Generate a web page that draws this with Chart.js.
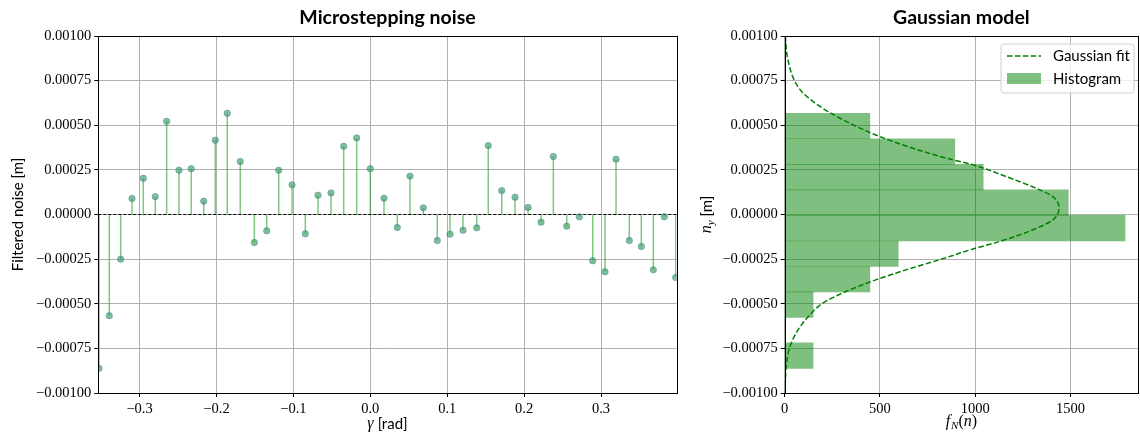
<!DOCTYPE html>
<html><head><meta charset="utf-8">
<script src="https://cdn.jsdelivr.net/npm/chart.js@4.4.1/dist/chart.umd.min.js"></script>
<style>
html,body{margin:0;padding:0;background:#fff;width:1140px;height:434px;overflow:hidden}
.box{position:absolute;top:0;height:434px}
</style></head><body>
<div class="box" style="left:0;width:690px"><canvas id="c1" width="690" height="434"></canvas></div>
<div class="box" style="left:690px;width:450px"><canvas id="c2" width="450" height="434"></canvas></div>
<script>
// ---- data ----
const gamma = [-0.3528,-0.3394,-0.3246,-0.3099,-0.2952,-0.2796,-0.2648,-0.2488,-0.2328,-0.2166,-0.2016,-0.1860,-0.1691,-0.1508,-0.1347,-0.1191,-0.1018,-0.0845,-0.0680,-0.0511,-0.0346,-0.0177,0.0000,0.0178,0.0351,0.0516,0.0689,0.0871,0.1036,0.1205,0.1384,0.1534,0.1709,0.1882,0.2051,0.2220,0.2380,0.2554,0.2718,0.2892,0.3052,0.3195,0.3368,0.3524,0.3680,0.3823,0.3971];
const noise = [-0.000862,-0.000567,-0.000250,0.0000896,0.000203,0.000100,0.000522,0.000248,0.000257,0.0000746,0.000416,0.000567,0.000297,-0.000157,-0.0000914,0.000248,0.000166,-0.000108,0.000108,0.000121,0.000382,0.000429,0.000257,0.0000914,-0.0000728,0.000215,0.0000373,-0.000146,-0.000110,-0.0000877,-0.0000746,0.000386,0.000134,0.000097,0.0000392,-0.0000429,0.000325,-0.0000653,-0.000013,-0.000259,-0.000321,0.000310,-0.000146,-0.000179,-0.000310,-0.000013,-0.000353];
const gammaRange = [-0.3537, 0.3984];
const gammaTicks = [-0.3,-0.2,-0.1,0.0,0.1,0.2,0.3];
const noiseTicksStep = 0.00025;
const noiseRange = [-0.001, 0.001];

const binEdges = [-0.000862,-0.000719,-0.000576,-0.000434,-0.000291,-0.000148,-0.000005,0.000138,0.000281,0.000424,0.000567];
const binDensity = [149,0,149,447,596,1787,1489,1042,893,447];
const fitDensity = [3,14,50,90,150,238,342,500,674,850,989,1164,1339,1408,1440,1408,1304,1129,989,814,640,482,325,202,133,71,28,10,1];
const fitNoise = [0.001,0.000883,0.000753,0.000688,0.000632,0.00057,0.000511,0.000436,0.000371,0.000315,0.000278,0.000212,0.000138,0.0001,0.00004,-0.00003,-0.0000855,-0.000151,-0.000193,-0.000253,-0.000309,-0.000365,-0.00043,-0.000495,-0.000561,-0.000645,-0.000738,-0.000831,-0.001];
const densityTicks = [0,500,1000,1500];
const densityMax = 1855;

// ---- styling ----
const SERIF = '"Liberation Serif", "DejaVu Serif", serif';
const SANS = 'Lato, "DejaVu Sans", sans-serif';
const GRID = '#b0b0b0';
const minusFmt = (v, d) => (Math.abs(v) < 1e-12 ? (0).toFixed(d) : (v < 0 ? '\u2212' : '') + Math.abs(v).toFixed(d));

function drawRich(ctx, segs, cx, cy, rot) {
  ctx.save();
  ctx.translate(cx, cy);
  if (rot) ctx.rotate(rot);
  let total = 0;
  for (const s of segs) { ctx.font = s.font; total += ctx.measureText(s.t).width + (s.gap || 0); }
  let x = -total / 2;
  ctx.textBaseline = 'middle';
  ctx.textAlign = 'left';
  ctx.fillStyle = '#000';
  for (const s of segs) {
    ctx.font = s.font;
    ctx.fillText(s.t, x, s.dy || 0);
    x += ctx.measureText(s.t).width + (s.gap || 0);
  }
  ctx.restore();
}

const framePlugin = {
  id: 'frame',
  afterDraw(chart) {
    const {ctx, chartArea: a} = chart;
    ctx.save();
    ctx.strokeStyle = '#000';
    ctx.lineWidth = 1;
    ctx.strokeRect(Math.round(a.left) + 0.5, Math.round(a.top) + 0.5, Math.round(a.right) - Math.round(a.left), Math.round(a.bottom) - Math.round(a.top));
    ctx.restore();
  }
};

function gridCfg() {
  return { color: GRID, lineWidth: 1, drawTicks: true, tickLength: 4, tickColor: '#000', tickWidth: 1, offset: false };
}

// ---- left chart: stems ----
const stemData = [];
gamma.forEach((g, i) => { stemData.push({x: g, y: 0}, {x: g, y: noise[i]}, {x: g, y: null}); });
const markerData = gamma.map((g, i) => ({x: g, y: noise[i]}));

const leftText = {
  id: 'leftText',
  afterDraw(chart) {
    const {ctx, chartArea: a} = chart;
    const cx = (a.left + a.right) / 2;
    drawRich(ctx, [{t: 'Microstepping noise', font: 'bold 19.5px ' + SANS}], cx, 18);
    drawRich(ctx, [{t: '\u03b3', font: 'italic 16px ' + SERIF, gap: 4}, {t: '[rad]', font: '15px ' + SANS}], cx, 424);
    drawRich(ctx, [{t: 'Filtered noise [m]', font: '15px ' + SANS}], 18, (a.top + a.bottom) / 2, -Math.PI / 2);
  }
};

new Chart(document.getElementById('c1'), {
  type: 'line',
  data: {
    datasets: [
      { type: 'scatter', data: markerData, pointRadius: 3.2, pointBackgroundColor: 'rgba(60,160,90,0.65)', pointBorderColor: 'rgba(70,130,180,0.5)', pointBorderWidth: 1, showLine: false, order: 0 },
      { type: 'line', data: [{x: gammaRange[0], y: 0}, {x: gammaRange[1], y: 0}], borderColor: '#000', borderWidth: 1, borderDash: [3, 2], pointRadius: 0, order: 1 },
      { type: 'line', data: stemData, borderColor: 'rgba(44,160,44,0.6)', borderWidth: 1.5, pointRadius: 0, spanGaps: false, order: 2 }
    ]
  },
  options: {
    responsive: false, animation: false, devicePixelRatio: 1,
    layout: { padding: { left: 0, right: 13.3, top: 36, bottom: 0 } },
    plugins: { legend: { display: false }, tooltip: { enabled: false }, title: { display: false } },
    scales: {
      x: {
        type: 'linear', min: gammaRange[0], max: gammaRange[1], offset: false,
        afterBuildTicks: s => { s.ticks = gammaTicks.map(v => ({value: v})); },
        afterFit: s => { s.height = 41; },
        grid: gridCfg(), border: { display: false },
        ticks: { font: { family: SERIF, size: 14.5 }, color: '#000', padding: 3, maxRotation: 0, callback: v => minusFmt(v, 1) }
      },
      y: {
        type: 'linear', min: noiseRange[0], max: noiseRange[1], offset: false,
        afterFit: s => { s.width = 98.3; },
        grid: gridCfg(), border: { display: false },
        ticks: { stepSize: noiseTicksStep, font: { family: SERIF, size: 14.5 }, color: '#000', padding: 3, callback: v => minusFmt(v, 5) }
      }
    }
  },
  plugins: [framePlugin, leftText]
});

// ---- right chart: histogram + Gaussian fit ----
const binCenters = binDensity.map((d, i) => (binEdges[i] + binEdges[i + 1]) / 2);
const histData = binDensity.map((d, i) => ({x: d, y: binCenters[i]}));
const fitData = fitDensity.map((d, i) => ({x: d, y: fitNoise[i]}));

const rightText = {
  id: 'rightText',
  afterDraw(chart) {
    const {ctx, chartArea: a} = chart;
    const cx = (a.left + a.right) / 2;
    drawRich(ctx, [{t: 'Gaussian model', font: 'bold 19.5px ' + SANS}], cx, 18);
    drawRich(ctx, [
      {t: 'f', font: 'italic 16px ' + SERIF, gap: 1},
      {t: 'N', font: 'italic 11px ' + SERIF, dy: 4},
      {t: '(', font: '16px ' + SERIF},
      {t: 'n', font: 'italic 16px ' + SERIF},
      {t: ')', font: '16px ' + SERIF}
    ], cx, 422);
    drawRich(ctx, [
      {t: 'n', font: 'italic 16px ' + SERIF},
      {t: 'y', font: 'italic 11px ' + SERIF, dy: 4, gap: 4},
      {t: '[m]', font: '15px ' + SANS}
    ], 17, (a.top + a.bottom) / 2, -Math.PI / 2);
    // legend
    const lx = 311, ly = 44, lw = 133, lh = 49, r = 3;
    ctx.save();
    ctx.beginPath();
    ctx.moveTo(lx + r, ly); ctx.lineTo(lx + lw - r, ly); ctx.quadraticCurveTo(lx + lw, ly, lx + lw, ly + r);
    ctx.lineTo(lx + lw, ly + lh - r); ctx.quadraticCurveTo(lx + lw, ly + lh, lx + lw - r, ly + lh);
    ctx.lineTo(lx + r, ly + lh); ctx.quadraticCurveTo(lx, ly + lh, lx, ly + lh - r);
    ctx.lineTo(lx, ly + r); ctx.quadraticCurveTo(lx, ly, lx + r, ly); ctx.closePath();
    ctx.fillStyle = 'rgba(255,255,255,0.8)'; ctx.fill();
    ctx.strokeStyle = '#d0d0d0'; ctx.lineWidth = 1; ctx.stroke();
    ctx.strokeStyle = '#008000'; ctx.lineWidth = 1.5; ctx.setLineDash([5.5, 2.4]);
    ctx.beginPath(); ctx.moveTo(lx + 6, 56); ctx.lineTo(lx + 40, 56); ctx.stroke();
    ctx.setLineDash([]);
    ctx.fillStyle = 'rgba(0,128,0,0.5)'; ctx.fillRect(lx + 6, 73, 34, 11);
    ctx.fillStyle = '#000'; ctx.font = '15px ' + SANS; ctx.textBaseline = 'middle'; ctx.textAlign = 'left';
    ctx.fillText('Gaussian fit', lx + 52, 56);
    ctx.fillText('Histogram', lx + 52, 79);
    ctx.restore();
  }
};

new Chart(document.getElementById('c2'), {
  type: 'bar',
  data: {
    datasets: [
      { type: 'line', data: fitData, borderColor: '#008000', borderWidth: 1.5, borderDash: [5.5, 2.4], pointRadius: 0, cubicInterpolationMode: 'monotone', order: 0, indexAxis: 'y' },
      { type: 'bar', data: histData, backgroundColor: 'rgba(0,128,0,0.5)', borderWidth: 0, barPercentage: 1, categoryPercentage: 1, order: 1, indexAxis: 'y' }
    ]
  },
  options: {
    indexAxis: 'y',
    responsive: false, animation: false, devicePixelRatio: 1,
    layout: { padding: { left: 0, right: 2, top: 36, bottom: 0 } },
    plugins: { legend: { display: false }, tooltip: { enabled: false }, title: { display: false } },
    scales: {
      x: {
        type: 'linear', min: 0, max: densityMax, offset: false,
        afterBuildTicks: s => { s.ticks = densityTicks.map(v => ({value: v})); },
        afterFit: s => { s.height = 41; },
        grid: gridCfg(), border: { display: false },
        ticks: { font: { family: SERIF, size: 14.5 }, color: '#000', padding: 3, maxRotation: 0, callback: v => String(v) }
      },
      y: {
        type: 'linear', min: noiseRange[0], max: noiseRange[1], offset: false,
        afterFit: s => { s.width = 94.7; },
        grid: gridCfg(), border: { display: false },
        ticks: { stepSize: noiseTicksStep, font: { family: SERIF, size: 14.5 }, color: '#000', padding: 3, callback: v => minusFmt(v, 5) }
      }
    }
  },
  plugins: [framePlugin, rightText]
});
</script>
</body></html>
